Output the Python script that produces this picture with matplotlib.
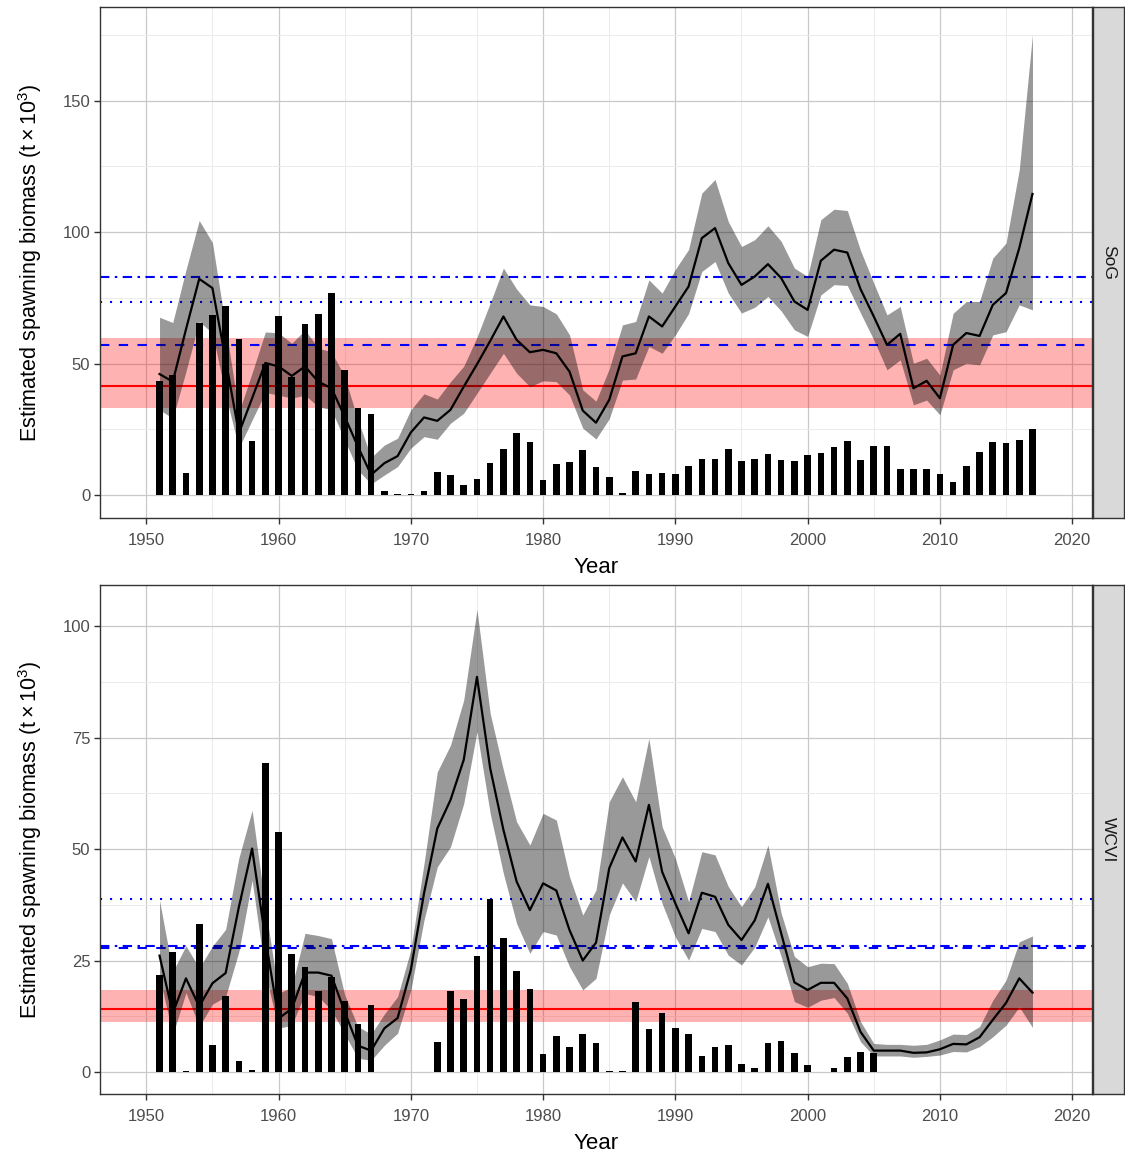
import matplotlib
matplotlib.use("Agg")
import matplotlib.pyplot as plt
import numpy as np

plt.rcParams['font.family'] = ['Liberation Sans', 'DejaVu Sans']
plt.rcParams['mathtext.fontset'] = 'custom'
plt.rcParams['mathtext.rm'] = 'Liberation Sans'
plt.rcParams['mathtext.it'] = 'Liberation Sans:italic'

years = list(range(1951, 2018))

sog_catch = [43.5, 45.7, 8.3, 65.6, 68.5, 71.9, 59.4, 20.4, 50.0, 67.9,
             45.0, 65.2, 68.8, 76.8, 47.6, 33.1, 30.8, 1.7, 0.2, 0.2,
             1.5, 8.6, 7.5, 3.8, 6.0, 12.1, 17.4, 23.7, 20.1, 5.7,
             11.8, 12.6, 17.0, 10.8, 6.9, 0.6, 9.1, 8.1, 8.2, 8.0,
             10.9, 13.6, 13.6, 17.6, 13.1, 13.8, 15.6, 13.3, 13.1, 15.1,
             16.1, 18.4, 20.7, 13.3, 18.6, 18.5, 9.9, 9.8, 9.9, 8.1,
             4.8, 11.0, 16.2, 20.1, 19.9, 21.1, 25.1]
sog_med = [46.0, 43.1, 63.0, 82.2, 78.7, 51.4, 23.5, 36.8, 50.2, 48.9,
           45.3, 48.9, 43.1, 40.6, 29.8, 18.4, 7.7, 12.1, 14.8, 23.8,
           29.5, 28.2, 32.4, 41.2, 49.7, 58.6, 67.9, 59.0, 54.3, 55.2,
           53.9, 46.9, 32.1, 27.5, 36.2, 52.7, 53.9, 67.9, 64.1, 71.7,
           79.3, 97.7, 101.5, 88.2, 79.9, 83.1, 87.8, 82.5, 73.6, 70.4,
           89.1, 93.3, 92.2, 78.3, 67.9, 57.1, 61.3, 40.6, 43.4, 36.8,
           57.1, 61.6, 60.5, 72.3, 76.8, 93.9, 114.5]
sog_upper = [67.6, 65.6, 85.6, 104.4, 96.0, 64.0, 31.5, 46.4, 62.0, 61.7,
             57.7, 62.8, 55.8, 54.5, 45.0, 28.5, 14.3, 19.0, 21.6, 32.4,
             38.5, 36.5, 43.1, 49.0, 60.0, 73.0, 86.3, 78.3, 72.3, 71.7,
             68.9, 60.9, 40.0, 35.7, 48.0, 64.7, 66.0, 81.8, 76.8, 85.8,
             93.4, 114.8, 120.0, 104.0, 94.5, 97.1, 102.4, 96.5, 86.3, 83.1,
             104.7, 108.7, 108.2, 93.0, 80.6, 68.5, 71.7, 50.1, 52.0, 45.6,
             69.1, 73.6, 73.6, 90.1, 95.8, 123.7, 175.1]
sog_lower = [32.4, 29.2, 47.0, 66.0, 61.6, 38.0, 17.9, 28.5, 39.0, 38.0,
             36.8, 38.0, 33.6, 32.4, 20.9, 9.5, 4.2, 7.6, 10.8, 17.8,
             22.2, 21.2, 27.3, 31.1, 38.7, 46.3, 53.9, 46.3, 41.2, 43.4,
             43.1, 38.0, 25.4, 21.3, 29.0, 43.7, 44.1, 56.5, 53.9, 60.9,
             69.0, 85.0, 88.8, 76.8, 69.2, 71.4, 75.5, 70.0, 62.8, 60.3,
             76.1, 80.0, 79.7, 69.2, 59.0, 47.6, 51.4, 34.3, 36.1, 30.5,
             47.6, 50.1, 49.5, 60.9, 62.1, 72.3, 70.4]

wcvi_catch = [21.7, 26.9, 0.2, 33.1, 6.1, 17.0, 2.5, 0.5, 69.2, 53.8,
              26.5, 23.6, 18.2, 21.2, 16.0, 10.8, 15.0, 0.0, 0.0, 0.0,
              0.0, 6.8, 18.2, 16.3, 26.0, 38.7, 30.0, 22.7, 18.6, 4.0,
              8.1, 5.5, 8.5, 6.6, 0.2, 0.2, 15.8, 9.7, 13.2, 9.8,
              8.5, 3.7, 5.5, 6.0, 1.9, 0.8, 6.6, 6.9, 4.3, 1.6,
              0.0, 0.8, 3.4, 4.4, 4.3, 0.0, 0.0, 0.0, 0.0, 0.0,
              0.0, 0.0, 0.0, 0.0, 0.0, 0.0, 0.0]
wcvi_med = [26.1, 13.2, 21.0, 14.7, 19.9, 22.2, 37.0, 50.1, 30.0, 12.0,
            14.2, 22.3, 22.3, 21.6, 13.5, 5.9, 4.8, 9.8, 12.1, 22.9,
            40.1, 54.6, 61.0, 70.0, 88.6, 68.1, 54.3, 42.7, 36.3, 42.3,
            40.7, 31.8, 25.0, 29.0, 45.7, 52.6, 47.2, 59.9, 44.9, 37.8,
            31.1, 40.2, 39.3, 33.0, 29.6, 34.0, 42.2, 31.1, 20.1, 18.4,
            20.0, 20.0, 16.5, 9.0, 4.8, 4.8, 4.8, 4.3, 4.4, 5.1,
            6.3, 6.2, 7.8, 11.7, 15.5, 21.0, 17.8]
wcvi_upper = [38.5, 22.5, 28.3, 23.3, 28.2, 32.0, 48.0, 58.7, 37.0, 17.6,
              19.1, 31.1, 30.6, 29.9, 17.3, 10.2, 8.5, 13.0, 16.9, 27.4,
              46.8, 67.3, 73.3, 83.4, 103.7, 80.4, 67.7, 56.1, 50.9, 58.0,
              56.5, 43.8, 35.2, 40.8, 60.6, 66.2, 60.6, 74.8, 55.0, 47.9,
              38.2, 49.4, 48.7, 41.6, 37.1, 41.5, 50.9, 35.6, 25.9, 23.6,
              24.4, 24.3, 19.9, 11.3, 6.4, 6.2, 6.2, 6.0, 6.2, 7.2,
              8.5, 8.4, 10.2, 16.1, 20.6, 29.2, 30.5]
wcvi_lower = [21.5, 8.3, 17.8, 10.2, 15.2, 16.9, 27.0, 43.0, 22.0, 9.8,
              10.5, 17.6, 16.9, 13.9, 8.5, 3.1, 2.6, 6.0, 8.7, 18.4,
              34.1, 46.0, 50.5, 60.2, 76.3, 58.0, 44.5, 33.3, 26.6, 31.5,
              30.7, 23.6, 18.4, 21.0, 35.2, 42.4, 38.2, 48.3, 37.8, 30.3,
              25.1, 32.2, 31.5, 26.2, 24.0, 28.0, 34.8, 25.9, 15.8, 14.5,
              16.1, 16.7, 13.2, 6.8, 3.6, 3.6, 3.6, 3.3, 3.5, 3.8,
              4.6, 4.5, 5.7, 7.9, 10.5, 14.6, 10.0]

regions = ["SoG", "WCVI"]
# reference points: [red solid, red band low, red band high, blue dashed, blue dotted, blue dotdash]
sog_refs = [41.5, 33.0, 59.6, 57.1, 73.3, 83.1]
wcvi_refs = [14.1, 11.3, 18.4, 27.8, 38.7, 28.2]

W, H = 1125, 1154
fig = plt.figure(figsize=(W / 100, H / 100), dpi=100)

panels = [
    dict(name=regions[0], catch=sog_catch, med=sog_med, up=sog_upper, lo=sog_lower,
         refs=sog_refs, top=7, bot=518, ylim=(-8.75, 185.6),
         major=[0, 50, 100, 150], minor=[25, 75, 125, 175]),
    dict(name=regions[1], catch=wcvi_catch, med=wcvi_med, up=wcvi_upper, lo=wcvi_lower,
         refs=wcvi_refs, top=585, bot=1094, ylim=(-4.93, 109.2),
         major=[0, 25, 50, 75, 100], minor=[12.5, 37.5, 62.5, 87.5]),
]

pl, pr = 100, 1092
for p in panels:
    ax = fig.add_axes([pl / W, 1 - p['bot'] / H, (pr - pl) / W, (p['bot'] - p['top']) / H])
    ax.set_xlim(1946.5, 2021.5)
    ax.set_ylim(*p['ylim'])
    ax.set_xticks([1950, 1960, 1970, 1980, 1990, 2000, 2010, 2020])
    ax.set_xticks([1955, 1965, 1975, 1985, 1995, 2005, 2015], minor=True)
    ax.set_yticks(p['major'])
    ax.set_yticks(p['minor'], minor=True)
    ax.grid(which='major', color='#C9C9C9', lw=0.9, zorder=0)
    ax.grid(which='minor', color='#EBEBEB', lw=0.7, zorder=0)
    ax.set_axisbelow(True)
    ax.tick_params(which='major', direction='out', length=4, width=1.0,
                   color='#333333', labelcolor='#4D4D4D', labelsize=12, pad=3)
    ax.tick_params(axis='x', which='major', pad=6.5)
    ax.tick_params(which='minor', length=0)
    for s in ax.spines.values():
        s.set_color('#333333')
        s.set_linewidth(1.0)

    r = p['refs']
    ax.axhspan(r[1], r[2], color='#FF0000', alpha=0.3, lw=0, zorder=1)
    ax.axhline(r[0], color='#FF0000', lw=1.5, zorder=2)
    l1 = ax.axhline(r[3], color='#0000FF', lw=1.5, zorder=2)
    l1.set_dashes((4.5, 4.5))
    l2 = ax.axhline(r[4], color='#0000FF', lw=1.5, zorder=2)
    l2.set_dashes((1.0, 3.8))
    l3 = ax.axhline(r[5], color='#0000FF', lw=1.5, zorder=2)
    l3.set_dashes((4.5, 2.6, 1.2, 2.6))

    ax.bar(years, p['catch'], width=0.5, color='black', zorder=3)
    ax.fill_between(years, p['lo'], p['up'], color='black', alpha=0.4, lw=0, zorder=4)
    ax.plot(years, p['med'], color='black', lw=1.6, zorder=5)

    ax.set_xlabel('Year', fontsize=16, color='black', labelpad=7)
    ax.set_ylabel(r'Estimated spawning biomass ($\mathregular{t \times 10^3}$)',
                  fontsize=15.5, color='black', labelpad=13)

    sx = fig.add_axes([1093 / W, 1 - p['bot'] / H, 31 / W, (p['bot'] - p['top']) / H])
    sx.set_facecolor('#D9D9D9')
    sx.set_xticks([])
    sx.set_yticks([])
    for s in sx.spines.values():
        s.set_color('#333333')
        s.set_linewidth(1.0)
    sx.text(0.5, 0.5, p['name'], rotation=-90, ha='center', va='center',
            fontsize=12.5, color='#1A1A1A', transform=sx.transAxes)

fig.savefig('out.png', dpi=100)
